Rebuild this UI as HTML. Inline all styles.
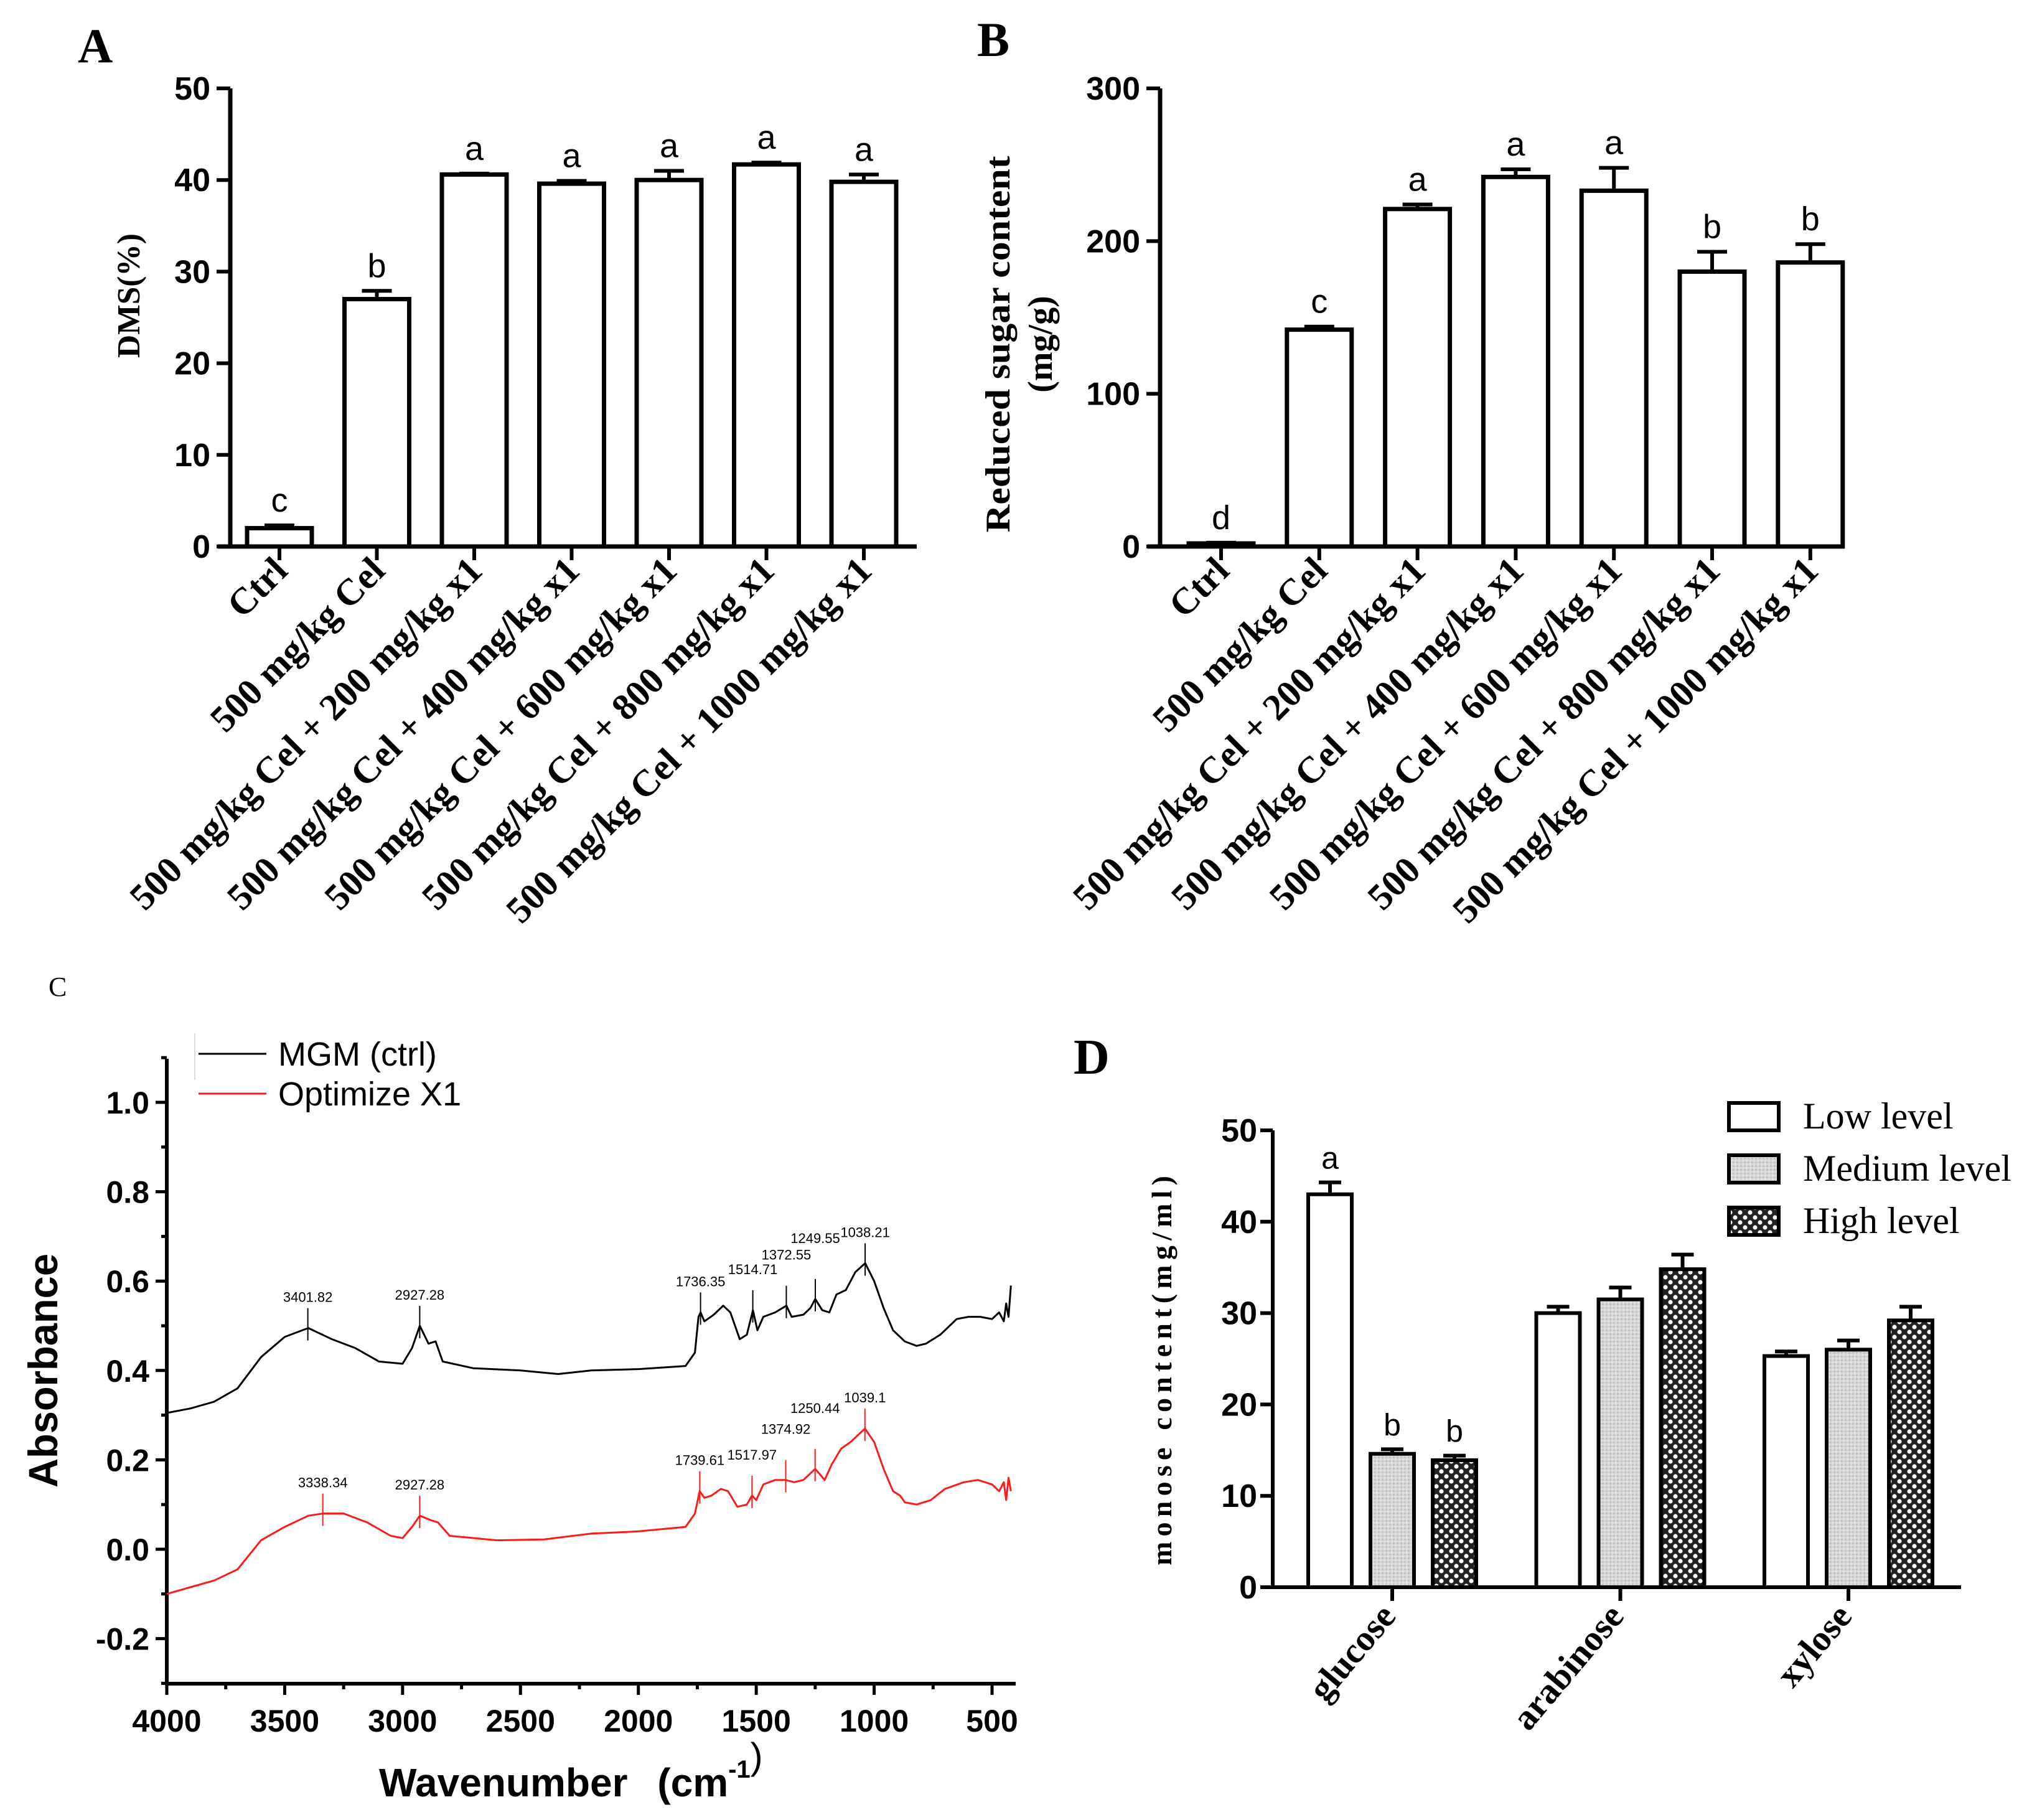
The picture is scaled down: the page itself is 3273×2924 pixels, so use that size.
<!DOCTYPE html>
<html><head><meta charset="utf-8"><style>
html,body{margin:0;padding:0;background:#fff}
svg{display:block}
.ser{font-family:"Liberation Serif",serif;font-weight:bold}
.san{font-family:"Liberation Sans",sans-serif}
</style></head><body>
<svg id="fig" xmlns="http://www.w3.org/2000/svg" width="3273" height="2924" viewBox="0 0 3273 2924">
<defs>
<pattern id="patMed" width="6" height="6" patternUnits="userSpaceOnUse"><rect width="6" height="6" fill="#d6d6d6"/><circle cx="1.5" cy="1.5" r="1" fill="#a8a8a8"/><circle cx="4.5" cy="4.5" r="1" fill="#f2f2f2"/></pattern>
<pattern id="patHigh" width="16" height="16" patternUnits="userSpaceOnUse"><rect width="16" height="16" fill="#222"/><circle cx="4" cy="4" r="3.6" fill="#f4f4f4"/><circle cx="12" cy="12" r="3.6" fill="#f4f4f4"/></pattern>
</defs>
<g id="pA"></g>
<g id="pB"></g>
<g id="pC"></g>
<g id="pD"></g>
</svg>
<script>
// ---------- data ----------
const catsAB = ["Ctrl","500 mg/kg Cel","500 mg/kg Cel + 200 mg/kg x1","500 mg/kg Cel + 400 mg/kg x1","500 mg/kg Cel + 600 mg/kg x1","500 mg/kg Cel + 800 mg/kg x1","500 mg/kg Cel + 1000 mg/kg x1"];
const dmsVals = [2, 27, 40.6, 39.6, 40, 41.7, 39.8];
const dmsErr = [0.3, 0.9, 0.1, 0.3, 1.0, 0.2, 0.8];
const dmsLetters = ["c","b","a","a","a","a","a"];
const dmsTicks = [0,10,20,30,40,50];
const sugarVals = [2, 142, 221, 242, 233, 180, 186];
const sugarErr = [0.5, 2, 3, 5, 15, 13, 12];
const sugarLetters = ["d","c","a","a","a","b","b"];
const sugarTicks = [0,100,200,300];

const ftirWaves = [4000,3900,3800,3700,3600,3500,3400,3300,3200,3100,3000,2960,2927,2890,2860,2830,2700,2500,2340,2200,2000,1800,1760,1745,1736,1720,1680,1640,1610,1570,1540,1514,1495,1470,1420,1372,1350,1300,1270,1250,1220,1190,1160,1120,1080,1038,1000,960,920,890,870,820,780,720,650,600,550,500,470,450,440,430,420];
const mgmAbs = [0.305,0.315,0.33,0.36,0.43,0.475,0.495,0.47,0.45,0.42,0.415,0.45,0.50,0.46,0.465,0.42,0.405,0.40,0.392,0.40,0.403,0.41,0.44,0.52,0.53,0.51,0.525,0.545,0.53,0.47,0.48,0.535,0.49,0.52,0.53,0.545,0.52,0.525,0.54,0.56,0.535,0.53,0.57,0.58,0.62,0.64,0.60,0.54,0.49,0.475,0.465,0.455,0.46,0.48,0.515,0.52,0.52,0.515,0.53,0.51,0.55,0.52,0.59];
const x1Waves = [4000,3900,3800,3700,3600,3500,3400,3338,3250,3150,3050,3000,2960,2927,2880,2850,2800,2600,2400,2200,2000,1800,1760,1740,1720,1690,1650,1620,1580,1540,1518,1500,1470,1420,1375,1340,1300,1250,1210,1180,1140,1100,1039,1000,960,920,890,870,820,760,700,620,560,500,470,450,440,430,420];
const x1Abs = [-0.10,-0.085,-0.07,-0.045,0.02,0.05,0.075,0.08,0.08,0.06,0.03,0.025,0.05,0.075,0.065,0.06,0.03,0.02,0.022,0.035,0.04,0.05,0.08,0.13,0.115,0.12,0.135,0.13,0.095,0.10,0.12,0.11,0.145,0.155,0.155,0.15,0.155,0.18,0.155,0.19,0.225,0.24,0.27,0.24,0.18,0.13,0.12,0.105,0.10,0.11,0.135,0.15,0.155,0.145,0.13,0.15,0.11,0.16,0.13];
const mgmPeaks = [3401.82,2927.28,1736.35,1514.71,1372.55,1249.55,1038.21];
const mgmPeakVals = [0.495,0.50,0.53,0.535,0.545,0.56,0.64];
const x1Peaks = [3338.34,2927.28,1739.61,1517.97,1374.92,1250.44,1039.1];
const x1PeakVals = [0.08,0.075,0.13,0.12,0.155,0.18,0.27];
const absTicks = [-0.2,0.0,0.2,0.4,0.6,0.8,1.0];
const waveTicks = [4000,3500,3000,2500,2000,1500,1000,500];

const sugarCats = ["glucose","arabinose","xylose"];
const levelNames = ["Low level","Medium level","High level"];
const lowVals = [43, 30, 25.3];
const medVals = [14.6, 31.5, 26];
const highVals = [13.9, 34.8, 29.2];
const lowErr = [1.3, 0.7, 0.5];
const medErr = [0.5, 1.3, 1.0];
const highErr = [0.5, 1.6, 1.5];
const glucLetters = ["a","b","b"];
const monoTicks = [0,10,20,30,40,50];

// ---------- helpers ----------
const NS = "http://www.w3.org/2000/svg";
function mk(parent, tag, attrs, text) {
  const e = document.createElementNS(NS, tag);
  for (const k in attrs) e.setAttribute(k, attrs[k]);
  if (text !== undefined) e.textContent = text;
  parent.appendChild(e);
  return e;
}

// ---------- Panel A & B ----------
function barPanel(g, o) {
  const t = mk(g, "text", {x:o.letterX, y:o.letterY, class:"ser", "font-size":78});
  t.textContent = o.letter;
  
  
  o.vals.forEach((v, i) => {
    const cx = o.x(i), top = o.y(v), w = 104;
    const r = mk(g, "rect", {x:cx-w/2, y:top, width:w, height:o.y(0)-top, fill:"#fff", stroke:"#000", "stroke-width":7});
    
    
    const et = o.y(v + o.err[i]);
    const el = mk(g, "path", {d:`M${cx},${top} V${et} M${cx-24},${et} H${cx+24}`, stroke:"#000", "stroke-width":6, fill:"none"});
    
    
    const lt = mk(g, "text", {x:cx, y:et-22, "text-anchor":"middle", class:"san", "font-size":54}, o.letters[i]);
    
    
    const tk = mk(g, "line", {x1:cx, y1:o.y(0), x2:cx, y2:o.y(0)+22, stroke:"#000", "stroke-width":6});
    
    
    const ex = cx + 16, ey = o.y(0) + 42;
    const xl = mk(g, "text", {x:ex, y:ey, "text-anchor":"end", class:"ser", "font-size":60, transform:`rotate(-45 ${ex} ${ey})`}, o.cats[i]);
    
    
  });
  const ax = mk(g, "path", {d:`M${o.ax},${o.y(o.ticks[o.ticks.length-1])} V${o.y(0)} M${o.ax-20},${o.y(0)} H${o.axEnd}`, stroke:"#000", "stroke-width":7, fill:"none"});
  
  
  o.ticks.forEach(tv => {
    const yy = o.y(tv);
    const tl = mk(g, "line", {x1:o.ax-22, y1:yy, x2:o.ax, y2:yy, stroke:"#000", "stroke-width":6});
    
    
    const tx = mk(g, "text", {x:o.ax-32, y:yy+18, "text-anchor":"end", class:"san", "font-weight":"bold", "font-size":52}, tv);
    
    
  });
  o.titles.forEach(tt => {
    const e = mk(g, "text", {x:tt.x, y:tt.y, "text-anchor":"middle", class:"ser", "font-size":tt.fs, transform:`rotate(-90 ${tt.x} ${tt.y})`}, tt.text);
    if (tt.len) { e.setAttribute("textLength", tt.len); e.setAttribute("lengthAdjust", "spacingAndGlyphs"); }
    
    
  });
}
barPanel(document.getElementById("pA"), {
  letter:"A", letterX:125, letterY:100, vals:dmsVals, err:dmsErr, letters:dmsLetters, cats:catsAB, ticks:dmsTicks,
  x: i => 449 + i*156.5, y: v => 878 - v*14.72, ax:370, axEnd:1473,
  titles:[{text:"DMS(%)", x:224, y:475, fs:52, len:200}]
});
barPanel(document.getElementById("pB"), {
  letter:"B", letterX:1570, letterY:90, vals:sugarVals, err:sugarErr, letters:sugarLetters, cats:catsAB, ticks:sugarTicks,
  x: i => 1962 + i*157.8, y: v => 878 - v*2.4533, ax:1864, axEnd:2963,
  titles:[{text:"Reduced sugar content", x:1622, y:553, fs:56, len:605},{text:"(mg/g)", x:1690, y:553, fs:56}]
});

// ---------- Panel C ----------
(function(){
  const g = document.getElementById("pC");
  const x = w => 268 + (4000 - w) * (1326/3500);
  const y = a => 2489 - a * 718;
  const c = mk(g, "text", {x:78, y:1600, "font-family":"Liberation Serif, serif", "font-size":44}, "C");
  
  
  const ax = mk(g, "path", {d:`M268,1701 V2705 H1632`, stroke:"#000", "stroke-width":6, fill:"none"});
  
  
  for (let a = -0.3; a <= 1.101; a += 0.1) {
    const major = absTicks.some(t => Math.abs(t - a) < 1e-6);
    const tl = mk(g, "line", {x1:268 - (major ? 18 : 9), y1:y(a), x2:268, y2:y(a), stroke:"#000", "stroke-width":5});
    
    
  }
  absTicks.forEach(t => {
    const tx = mk(g, "text", {x:240, y:y(t)+18, "text-anchor":"end", class:"san", "font-weight":"bold", "font-size":50}, t.toFixed(1));
    
    
  });
  for (let w = 4000; w >= 450; w -= 250) {
    const major = waveTicks.includes(w);
    const tl = mk(g, "line", {x1:x(w), y1:2705, x2:x(w), y2:2705 + (major ? 18 : 9), stroke:"#000", "stroke-width":5});
    
    
  }
  waveTicks.forEach(w => {
    const tx = mk(g, "text", {x:x(w), y:2782, "text-anchor":"middle", class:"san", "font-weight":"bold", "font-size":50}, w);
    
    
  });
  const xt = mk(g, "text", {x:609, y:2886, class:"san", "font-weight":"bold", "font-size":64});
  xt.innerHTML = 'Wavenumber <tspan dx="30">(cm</tspan><tspan dy="-30" font-size="40">-1</tspan><tspan dy="-14" font-size="60" font-weight="normal">)</tspan>';
  
  
  const yt = mk(g, "text", {x:92, y:2202, "text-anchor":"middle", class:"san", "font-weight":"bold", "font-size":66, textLength:376, lengthAdjust:"spacingAndGlyphs", transform:"rotate(-90 92 2202)"}, "Absorbance");
  
  
  function series(ws, as, color, name) {
    const d = ws.map((w, i) => (i ? "L" : "M") + x(w).toFixed(1) + "," + y(as[i]).toFixed(1)).join(" ");
    const p = mk(g, "path", {d:d, stroke:color, "stroke-width":3, fill:"none", "stroke-linejoin":"round"});
    
    
  }
  series(ftirWaves, mgmAbs, "#000", "mgm-ctrl-spectrum");
  series(x1Waves, x1Abs, "#ff1a1a", "optimize-x1-spectrum");
  function peaks(ps, vs, color) {
    ps.forEach((w, i) => {
      const px = x(w), py = y(vs[i]);
      const l = mk(g, "line", {x1:px, y1:py-32, x2:px, y2:py+20, stroke:color, "stroke-width":2});
      
      
      const t = mk(g, "text", {x:px, y:py-42 - (i >= 3 && i <= 5 ? (i-2)*16 : 0), "text-anchor":"middle", class:"san", "font-size":22, fill:"#000"}, w);
      
      
    });
  }
  peaks(mgmPeaks, mgmPeakVals, "#000");
  peaks(x1Peaks, x1PeakVals, "#ff1a1a");
  const fr = mk(g, "line", {x1:313, y1:1660, x2:313, y2:1735, stroke:"#ddd", "stroke-width":2});
  
  
  [["MGM  (ctrl)", "#000", 1693], ["Optimize X1", "#ff1a1a", 1757]].forEach(([lab, col, ly]) => {
    const ln = mk(g, "line", {x1:319, y1:ly, x2:428, y2:ly, stroke:col, "stroke-width":3});
    
    
    const lt = mk(g, "text", {x:447, y:ly+19, class:"san", "font-size":54, "xml:space":"preserve"}, lab);
    
    
  });
})();

// ---------- Panel D ----------
(function(){
  const g = document.getElementById("pD");
  const gx = i => 2237 + i * 366.5;
  const y = v => 2550 - v * 14.68;
  const offs = [-100, 0, 100];
  const fills = ["#fff", "url(#patMed)", "url(#patHigh)"];
  const series = [lowVals, medVals, highVals];
  const errs = [lowErr, medErr, highErr];
  const d = mk(g, "text", {x:1725, y:1725, class:"ser", "font-size":80}, "D");
  
  
  series.forEach((vals, s) => {
    vals.forEach((v, i) => {
      const cx = gx(i) + offs[s], top = y(v), w = 70;
      const r = mk(g, "rect", {x:cx-w/2, y:top, width:w, height:y(0)-top, fill:fills[s], stroke:"#000", "stroke-width":6});
      
      
      const et = y(v + errs[s][i]);
      const el = mk(g, "path", {d:`M${cx},${top} V${et} M${cx-18},${et} H${cx+18}`, stroke:"#000", "stroke-width":6, fill:"none"});
      
      
      if (i === 0) {
        const lt = mk(g, "text", {x:cx, y:et-22, "text-anchor":"middle", class:"san", "font-size":50}, glucLetters[s]);
        
        
      }
    });
  });
  const ax = mk(g, "path", {d:`M2045,${y(50)} V2550 M2030,2550 H3151`, stroke:"#000", "stroke-width":6, fill:"none"});
  
  
  monoTicks.forEach(t => {
    const tl = mk(g, "line", {x1:2025, y1:y(t), x2:2045, y2:y(t), stroke:"#000", "stroke-width":6});
    
    
    const tx = mk(g, "text", {x:2020, y:y(t)+18, "text-anchor":"end", class:"san", "font-weight":"bold", "font-size":52}, t);
    
    
  });
  sugarCats.forEach((c, i) => {
    const tl = mk(g, "line", {x1:gx(i), y1:2550, x2:gx(i), y2:2572, stroke:"#000", "stroke-width":6});
    
    
    const ex = gx(i) + 8, ey = 2598;
    const tx = mk(g, "text", {x:ex, y:ey, "text-anchor":"end", class:"ser", "font-size":58, transform:`rotate(-50 ${ex} ${ey})`}, c);
    
    
  });
  const yt = mk(g, "text", {x:1882, y:2202, "text-anchor":"middle", class:"ser", "font-size":46, textLength:626, lengthAdjust:"spacing", transform:"rotate(-90 1882 2202)"}, "monose content(mg/ml)");
  
  
  levelNames.forEach((n, s) => {
    const ly = 1793 + s * 84;
    const bx = mk(g, "rect", {x:2778, y:ly-21, width:80, height:44, fill:fills[s], stroke:"#000", "stroke-width":6});
    
    
    const lt = mk(g, "text", {x:2897, y:ly+20, "font-family":"Liberation Serif, serif", "font-size":60}, n);
    
    
  });
})();
</script>
</body></html>
